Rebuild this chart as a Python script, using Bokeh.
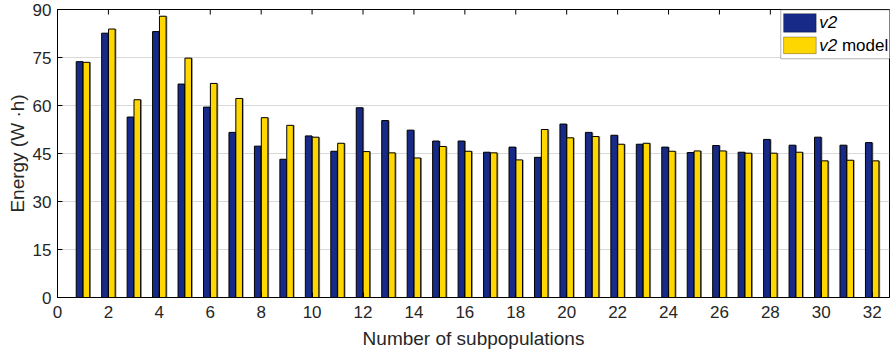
import math
from bokeh.plotting import figure
from bokeh.models import (Range1d, FixedTicker, BoxAnnotation, Label, ColumnDataSource)
from bokeh.transform import dodge
from bokeh.embed import file_html
from bokeh.resources import INLINE

n = list(range(1, 33))
v2 = [73.7, 82.6, 56.4, 83.1, 66.7, 59.5, 51.6, 47.3, 43.2, 50.5,
      45.7, 59.3, 55.3, 52.3, 48.9, 48.9, 45.4, 47.0, 43.8, 54.2,
      51.6, 50.7, 47.9, 47.0, 45.3, 47.5, 45.4, 49.4, 47.6, 50.1,
      47.6, 48.4]
v2_model = [73.5, 83.9, 61.8, 87.9, 74.8, 66.9, 62.2, 56.2, 53.8, 50.1,
            48.2, 45.6, 45.2, 43.6, 47.2, 45.7, 45.2, 43.0, 52.5, 49.9,
            50.3, 47.9, 48.2, 45.7, 45.8, 45.8, 45.1, 45.1, 45.4, 42.7,
            42.9, 42.7]
x_ticks = list(range(0, 33, 2))
y_ticks = [0, 15, 30, 45, 60, 75, 90]

FONT = "Liberation Sans"
BLUE = "#172a87"
YELLOW = "#ffd700"
SHADOW = "#8c8c8c"

src = ColumnDataSource(dict(n=n, v2=v2, v2m=v2_model))

p = figure(width=890, height=354, output_backend="svg", toolbar_location=None,
           x_range=Range1d(0, 32.68), y_range=Range1d(0, 90),
           min_border_left=57, min_border_right=1, min_border_top=9, min_border_bottom=57,
           x_axis_label="Number of subpopulations", y_axis_label="Energy (W \u00b7h)")

# shadows
p.vbar(x=dodge('n', -0.135 + 0.05, range=p.x_range), top='v2', width=0.26, source=src,
       fill_color=SHADOW, line_color=None, bottom=-1)
p.vbar(x=dodge('n', 0.135 + 0.05, range=p.x_range), top='v2m', width=0.26, source=src,
       fill_color=SHADOW, line_color=None, bottom=-1)
# bars
p.vbar(x=dodge('n', -0.135, range=p.x_range), top='v2', width=0.26, source=src,
       fill_color=BLUE, line_color="black", line_width=1)
p.vbar(x=dodge('n', 0.135, range=p.x_range), top='v2m', width=0.26, source=src,
       fill_color=YELLOW, line_color="black", line_width=1)

# top-edge ticks (mirror of the bottom axis)
p.scatter(x=x_ticks, y=[90] * len(x_ticks), marker="dash", angle=math.pi / 2,
          size=10, line_color="black", line_width=1)

p.outline_line_color = "black"
p.outline_line_width = 1
p.xgrid.grid_line_color = None
p.ygrid.grid_line_color = "#d9d9d9"
p.ygrid.ticker = FixedTicker(ticks=y_ticks)

for ax in p.xaxis:
    ax.ticker = FixedTicker(ticks=x_ticks)
for ax in p.yaxis:
    ax.ticker = FixedTicker(ticks=y_ticks)

for ax in list(p.xaxis) + list(p.yaxis):
    ax.major_tick_in = 5
    ax.major_tick_out = 0
    ax.minor_tick_line_color = None
    ax.axis_line_color = "black"
    ax.major_tick_line_color = "black"
    ax.major_label_text_font = FONT
    ax.major_label_text_font_size = "17px"
    ax.major_label_text_color = "#262626"
    ax.axis_label_text_font = FONT
    ax.axis_label_text_font_size = "19px"
    ax.axis_label_text_font_style = "normal"
    ax.axis_label_text_color = "#262626"

p.xaxis.major_label_standoff = 8
p.xaxis.axis_label_standoff = 7
p.yaxis.major_label_standoff = 6
p.yaxis.axis_label_standoff = 2

# legend
p.add_layout(BoxAnnotation(left=28.41, right=33.5, top=89.9, bottom=74.6,
                           fill_color="white", fill_alpha=1, line_color="black", line_width=1))
p.add_layout(BoxAnnotation(left=28.52, right=29.8, top=88.7, bottom=82.9,
                           fill_color=BLUE, fill_alpha=1, line_color="black", line_width=1))
p.add_layout(BoxAnnotation(left=28.52, right=29.8, top=81.4, bottom=76.2,
                           fill_color=YELLOW, fill_alpha=1, line_color="black", line_width=1))
for yv in (85.8, 78.75):
    p.add_layout(Label(x=29.92, y=yv, text="v2", text_font=FONT, text_font_size="17px",
                       text_font_style="italic", text_baseline="middle", text_color="black"))
p.add_layout(Label(x=30.81, y=78.75, text="model", text_font=FONT, text_font_size="17px",
                   text_baseline="middle", text_color="black"))

open("out.html", "w").write(file_html(p, INLINE))
